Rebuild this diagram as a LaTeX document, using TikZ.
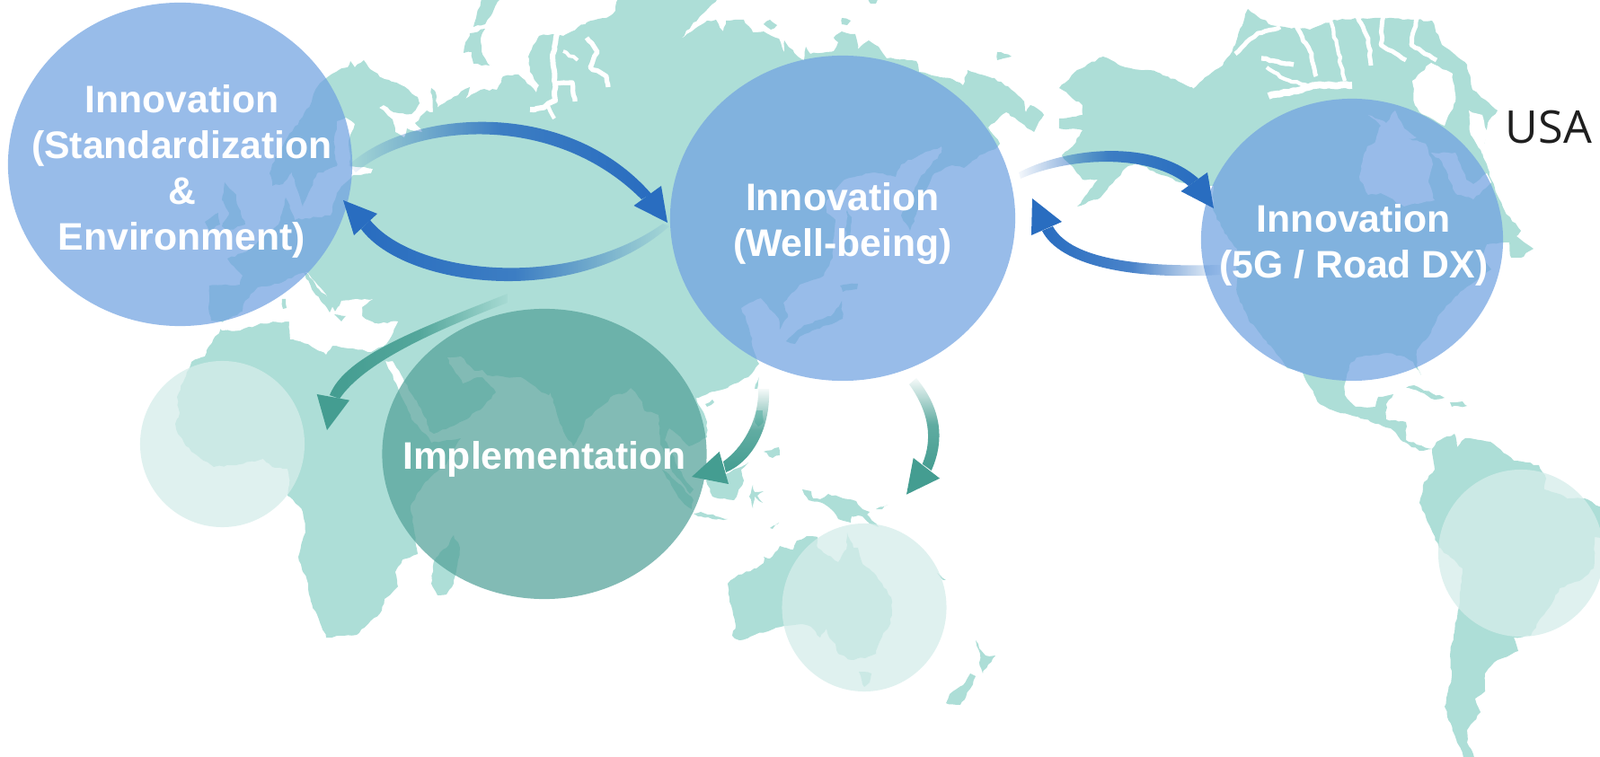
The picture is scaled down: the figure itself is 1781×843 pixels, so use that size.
\documentclass[tikz,border=0pt]{standalone}
\usepackage{fontspec}
\setmainfont{Liberation Sans}
\newfontfamily\usafont{Open Sans}
\usetikzlibrary{shapes.geometric,fadings,decorations.pathmorphing}
\definecolor{landgreen}{HTML}{ADDED7}
\definecolor{spotblue}{HTML}{72A3E1}
\definecolor{spotgreen}{HTML}{54A29A}
\definecolor{spotpale}{HTML}{D5EDEA}
\definecolor{flowblue}{HTML}{296DC0}
\definecolor{flowgreen}{HTML}{449D91}
\tikzfading[name=tailfade, left color=transparent!95, right color=transparent!0, middle color=transparent!15]
\tikzset{
  rough/.style={decorate, decoration={random steps, segment length=1.3pt, amplitude=.3pt}},
  land/.style={fill=landgreen, rough},
  sea/.style={fill=white, rough},
  channel/.style={draw=white, line join=round, rough},
  spot/.style={ellipse, inner sep=0pt, fill opacity=.73},
  bluespot/.style={spot, fill=spotblue},
  greenspot/.style={spot, fill=spotgreen},
  palespot/.style={spot, fill=spotpale, fill opacity=.76},
  spottext/.style={inner sep=0pt, text=white, align=center, yshift=-1.7pt,
    font=\fontsize{12.15}{14.5}\selectfont\bfseries},
}
\begin{document}
\begin{tikzpicture}[x=0.01cm,y=-0.01cm]
  \clip (0,0) rectangle (1781,843);
  % eurasia and africa
  \fill [land] plot coordinates {(233,318) (267,317) (270,307) (253,288) (275,280) (310,250) (318,220) (328,245) (340,243) (368,240) (375,215) (383,205) (393,195) (413,193) (415,188) (390,185) (388,160) (391,148) (395,138) (385,131) (375,135) (372,160) (375,185) (360,192) (353,193) (337,230) (333,217) (325,192) (315,205) (303,207) (300,193) (303,183) (320,153) (337,130) (347,113) (353,97) (363,87) (370,82)
    (377,78) (387,75) (390,68) (395,75) (405,67) (412,77) (428,88) (447,95) (465,108) (467,115) (458,127) (438,125) (427,117) (422,120) (437,133) (440,147) (450,153) (453,143) (470,147) (462,137) (475,123) (482,125) (480,98) (485,103) (487,120) (498,112) (523,97) (518,110) (535,100) (553,100) (560,85) (577,83) (597,103) (600,95) (590,80) (588,63) (600,40) (615,38) (627,40) (653,25) (675,20) (685,12) (688,-5) (802,-5)
    (785,13) (770,28) (758,43) (770,35) (787,23) (797,22) (805,35) (808,23) (828,22) (838,36) (850,35) (867,43) (873,58) (873,45) (888,63) (895,67) (897,52) (902,60) (928,57) (933,47) (928,42) (937,35) (952,38) (955,55) (967,45) (978,52) (987,65) (1020,68) (1023,80) (1043,85) (1060,88) (1072,95) (1077,78) (1107,87) (1130,103) (1140,113) (1142,125) (1147,117) (1160,125) (1162,128) (1151,147) (1148,145) (1137,137) (1120,125) (1113,130) (1100,142) (1113,160) (1108,166)
    (1090,173) (1073,187) (1060,184) (1040,193) (1030,213) (1013,257) (1003,240) (1007,233) (1023,200) (1037,183) (1048,170) (1048,163) (1023,173) (1003,183) (997,197) (973,192) (940,200) (920,223) (920,237) (930,245) (927,287) (917,307) (890,317) (872,337) (877,353) (868,367) (867,355) (863,350) (847,332) (825,343) (833,363) (840,393) (845,405) (833,420) (810,432) (790,437) (775,443) (787,470) (787,487) (767,497) (753,483) (745,477) (740,490) (760,530) (772,545) (768,550) (748,525) (735,495) (733,462) (717,457) (713,445) (702,432) (697,437) (683,440) (673,450) (652,467) (648,480) (638,497) (627,480) (618,453) (613,437) (611,440) (603,437) (592,428) (580,420) (563,420) (543,418) (537,420) (552,437) (538,453) (517,468) (483,483) (478,480) (475,467) (462,445) (450,425) (437,402)
    (429,402) (443,432) (458,467) (477,487) (480,493) (513,488) (497,517) (473,537) (457,563) (463,607) (465,617) (448,623) (440,637) (443,653) (428,667) (423,683) (397,707) (363,710) (346,670) (343,650) (332,620) (340,593) (337,570) (332,563) (320,552) (322,540) (320,522) (303,520) (293,511) (263,518) (238,520) (213,503) (198,483) (195,472) (200,460) (197,442) (205,423) (213,403) (228,397) (230,390) (245,368) (247,358) (235,357) (232,343)} -- cycle;
  % inland seas
  \fill [sea] plot coordinates {(247,359) (270,347) (273,335) (287,320) (313,315) (333,305) (342,303) (347,310) (363,328) (367,338) (373,347) (380,335) (397,333) (415,333) (403,342) (403,352) (417,360) (443,358) (430,383) (413,392) (393,388) (370,385) (363,395) (343,383) (323,378) (322,358) (290,360) (267,368) (247,368) (240,363)} -- cycle;
  \fill [sea] plot coordinates {(498,398) (513,397) (528,413) (537,412) (545,422) (532,420) (515,427) (510,418) (500,405)} -- cycle;
  \fill [land] plot coordinates {(338,303) (343,305) (355,322) (372,338) (367,348) (357,335) (347,322)} -- cycle;
  \fill [land] plot coordinates {(314,333) (318,333) (319,343) (315,344)} -- cycle;
  \fill [land] plot coordinates {(372,350) (385,352) (380,358)} -- cycle;
  \draw [channel, line width=1.7pt] (620,38) -- (615,63) -- (618,93) -- (618,112) -- (603,120) -- (590,122);
  \draw [channel, line width=1.5pt] (618,93) -- (637,92) -- (640,113);
  \draw [channel, line width=1.2pt] (610,118) -- (617,132);
  \draw [channel, line width=1.5pt] (653,42) -- (665,58) -- (657,75) -- (675,85) -- (677,97);
  \draw [channel, line width=1.1pt] (627,57) -- (643,67);
  % islands of europe and asia
  \fill [land] plot coordinates {(250,203) (263,217) (265,230) (273,250) (253,257) (247,252) (255,237) (247,223)} -- cycle;
  \fill [land] plot coordinates {(228,247) (243,237) (245,250) (233,257)} -- cycle;
  \fill [land] plot coordinates {(538,-5) (558,-5) (550,10) (540,27) (527,30) (530,20)} -- cycle;
  \fill [land] plot coordinates {(523,37) (540,32) (535,43) (536,57) (545,73) (527,71) (525,58) (516,59) (517,52)} -- cycle;
  \fill [land] plot coordinates {(850,27) (857,22) (865,28) (858,33)} -- cycle;
  \fill [land] plot coordinates {(937,20) (947,23) (943,28) (937,27)} -- cycle;
  \fill [land] plot coordinates {(965,-3) (980,-3) (975,4) (968,3)} -- cycle;
  \fill [land] plot coordinates {(1110,58) (1118,60) (1126,63) (1110,67)} -- cycle;
  \fill [land] plot coordinates {(943,234) (948,242) (946,285) (940,282)} -- cycle;
  \fill [land] plot coordinates {(935,318) (955,316) (954,322) (938,325)} -- cycle;
  \fill [land] plot coordinates {(937,335) (938,355) (890,375) (885,383) (875,380) (895,362) (925,352)} -- cycle;
  \fill [land] plot coordinates {(737,523) (758,540) (772,557) (770,567) (758,557) (747,540)} -- cycle;
  \fill [land] plot coordinates {(785,450) (793,445) (795,448) (787,453)} -- cycle;
  \fill [land] plot coordinates {(840,433) (845,420) (843,433)} -- cycle;
  \fill [land] plot coordinates {(842,457) (849,457) (850,470) (844,475) (840,470)} -- cycle;
  \fill [land] plot coordinates {(850,503) (867,498) (868,507) (860,510)} -- cycle;
  \fill [land] plot coordinates {(786,535) (793,553) (817,557) (828,535) (825,523) (833,515) (810,527)} -- cycle;
  \fill [land] plot coordinates {(838,540) (840,548) (850,547) (843,552) (849,560) (840,553) (838,566) (834,553)} -- cycle;
  \fill [land] plot coordinates {(772,572) (780,570) (797,575) (810,578) (793,578) (777,575)} -- cycle;
  \fill [land] plot coordinates {(857,588) (867,582) (860,589)} -- cycle;
  \fill [land] plot coordinates {(893,545) (903,547) (905,555) (913,556) (922,550) (953,558) (960,567) (968,570) (965,573) (978,587) (968,583) (960,575) (948,575) (947,582) (933,578) (925,567) (915,560) (900,557)} -- cycle;
  \fill [land] plot coordinates {(975,567) (988,562) (982,567)} -- cycle;
  \fill [land] plot coordinates {(1043,638) (1053,646) (1050,646)} -- cycle;
  % madagascar
  \fill [land] plot coordinates {(505,596) (512,610) (505,650) (497,662) (487,663) (480,650) (483,625) (490,615) (497,610)} -- cycle;
  % australia
  \fill [land] plot coordinates {(898,597) (910,598) (910,610) (933,626) (942,612) (943,593) (950,610) (955,610) (960,628) (973,638) (982,650) (992,665) (993,680) (990,697) (983,705) (977,720) (975,728) (963,733) (955,733) (948,735) (933,728) (930,717) (923,710) (920,700) (913,710) (903,698) (893,695) (873,697) (855,703) (840,707) (823,713) (815,708) (819,697) (812,670) (810,650) (822,640) (842,633) (850,627) (850,620) (857,622) (868,608) (875,610) (883,612) (887,602)} -- cycle;
  \fill [land] plot coordinates {(956,748) (970,750) (968,760) (962,765)} -- cycle;
  \fill [land] plot coordinates {(1086,713) (1090,722) (1097,730) (1108,730) (1100,740) (1094,750) (1090,738) (1091,728)} -- cycle;
  \fill [land] plot coordinates {(1080,750) (1086,753) (1080,767) (1069,785) (1053,783) (1057,773) (1072,763)} -- cycle;
  % north america
  \fill [land] plot coordinates {(1179,98) (1199,78) (1228,63) (1253,75) (1287,80) (1327,97) (1361,73) (1375,50) (1389,10) (1415,28) (1458,33) (1485,22) (1530,20) (1594,23) (1605,50) (1633,72) (1639,100) (1667,123) (1656,137) (1650,170) (1660,200) (1675,235) (1693,257) (1688,263) (1707,277) (1693,287) (1682,287) (1680,270) (1655,272) (1650,285) (1660,300) (1637,317) (1620,330) (1600,353) (1593,370) (1577,390) (1577,407) (1582,418) (1573,403) (1563,397) (1543,393) (1510,398) (1502,407) (1497,427) (1497,440) (1509,453) (1531,453) (1534,442) (1551,439) (1543,450) (1543,467) (1565,470) (1565,490) (1594,500) (1580,502) (1562,492) (1548,477) (1520,467) (1492,460) (1469,450) (1463,440) (1450,415) (1433,410) (1420,393) (1410,380) (1390,357) (1377,327) (1377,277) (1363,260) (1350,233) (1351,207) (1313,203) (1265,182) (1253,187) (1225,220) (1199,230) (1222,200) (1205,200) (1191,183) (1182,173) (1194,163) (1205,145) (1179,143) (1179,132) (1205,128) (1205,117)} -- cycle;
  \fill [sea] plot coordinates {(1572,90) (1593,70) (1617,82) (1620,113) (1608,140) (1583,127) (1575,117)} -- cycle;
  \fill [sea] plot coordinates {(1635,123) (1650,128) (1656,150) (1650,172) (1637,150)} -- cycle;
  \fill [sea] plot coordinates {(1515,185) (1522,163) (1550,150) (1587,160) (1595,183) (1590,203) (1597,223) (1563,230) (1537,215) (1523,217) (1513,197)} -- cycle;
  \fill [sea] plot coordinates {(1523,128) (1543,137) (1553,123) (1563,143) (1577,153) (1560,157) (1530,160) (1537,140)} -- cycle;
  \fill [sea] plot coordinates {(1593,170) (1620,170) (1632,200) (1640,205) (1655,193) (1660,203) (1640,222) (1620,215) (1605,180)} -- cycle;
  \draw [channel, line width=1.1pt] (1327,97) -- (1345,80) -- (1358,70);
  \draw [channel, line width=1.4pt] (1375,60) -- (1400,37) -- (1425,30);
  \draw [channel, line width=2.2pt] (1412,107) -- (1435,103) -- (1465,95) -- (1505,95);
  \draw [channel, line width=1.5pt] (1404,65) -- (1440,72);
  \draw [channel, line width=1.2pt] (1410,75) -- (1430,88) -- (1455,95);
  \draw [channel, line width=1.4pt] (1440,25) -- (1460,60) -- (1465,85);
  \draw [channel, line width=1.2pt] (1480,18) -- (1490,60) -- (1497,90);
  \draw [channel, line width=1.4pt] (1511,18) -- (1523,43) -- (1526,73);
  \draw [channel, line width=1.4pt] (1540,18) -- (1537,50) -- (1565,67);
  \draw [channel, line width=1.4pt] (1577,20) -- (1571,50) -- (1599,67);
  \fill [land] plot coordinates {(1565,432) (1574,429) (1594,438) (1608,443) (1597,445) (1585,438)} -- cycle;
  \fill [land] plot coordinates {(1614,448) (1628,447) (1633,452) (1616,453)} -- cycle;
  % south america
  \fill [land] plot coordinates {(1594,500) (1599,492) (1619,483) (1622,498) (1631,488) (1659,492) (1685,513) (1713,518) (1721,533) (1719,545) (1747,555) (1764,555) (1790,570) (1790,600) (1775,598) (1774,633) (1758,647) (1736,655) (1727,673) (1716,687) (1704,708) (1685,710) (1690,725) (1667,735) (1653,750) (1653,770) (1642,778) (1648,793) (1633,813) (1633,827) (1645,850) (1632,850) (1622,827) (1608,787) (1616,753) (1614,730) (1625,670) (1628,633) (1602,610) (1580,560) (1585,537) (1597,523)} -- cycle;
  % spots
  \node [palespot, minimum width=1.83cm, minimum height=1.85cm] (africa) at (247.5,494.5) {};
  \node [palespot, minimum width=1.83cm, minimum height=1.87cm] (oceania) at (962,676.5) {};
  \node [palespot, minimum width=1.84cm, minimum height=1.86cm] (samerica) at (1693,616) {};
  \node [bluespot, minimum width=3.83cm, minimum height=3.60cm] (standard) at (200.5,183) {};
  \node [bluespot, minimum width=3.84cm, minimum height=3.62cm] (wellbeing) at (938,243) {};
  \node [bluespot, minimum width=3.36cm, minimum height=3.14cm] (roadDX) at (1505,267) {};
  \node [greenspot, minimum width=3.61cm, minimum height=3.23cm] (implement) at (606,505.5) {};
  \node [spottext, xshift=.55pt, yshift=-.6pt] (standardText) at (standard) {Innovation\\(Standardization\\\&\\Environment)};
  \node [spottext] (wellbeingText) at (wellbeing) {Innovation\\(Well-being)};
  \node [spottext, xshift=.55pt] (roadDXText) at (roadDX) {Innovation\\(5G / Road DX)};
  \node [spottext] (implementText) at (implement) {Implementation};
  \node [inner sep=0pt, text=black!88, font=\usafont\fontsize{14.3}{15}\selectfont] (usa) at (1724,142) {USA};
  % blue flows
  \coordinate (a1) at (388,184);
  \coordinate (b1) at (743,248);
  \fill [flowblue, path fading=tailfade] (a1) .. controls (455,122) and (630,107) .. (725,216) -- (714,222) .. controls (615,123) and (460,138) .. (396,192) -- cycle;
  \fill [flowblue] (b1) -- (736,207) -- (705.5,229) -- cycle;
  \coordinate (a2) at (745,252);
  \coordinate (b2) at (382,223);
  \fill [flowblue, path fading=tailfade, fading angle=180] (a2) .. controls (640,345) and (450,320) .. (402,255) -- (412,245) .. controls (460,305) and (630,325) .. (738,249) -- cycle;
  \fill [flowblue] (b2) -- (420,238) -- (394,262) -- cycle;
  \coordinate (a3) at (1134,192);
  \coordinate (b3) at (1351,232);
  \fill [flowblue, path fading=tailfade] (a3) .. controls (1190,163) and (1285,155) .. (1334,199) -- (1323,207) .. controls (1280,170) and (1190,175) .. (1136,199) -- cycle;
  \fill [flowblue] (b3) -- (1344,192) -- (1314.5,213) -- cycle;
  \coordinate (a4) at (1358,306);
  \coordinate (b4) at (1149,221);
  \fill [flowblue, path fading=tailfade, fading angle=180] (a4) .. controls (1260,312) and (1180,296) .. (1160,257) -- (1172,252) .. controls (1190,285) and (1255,298) .. (1358,295) -- cycle;
  \fill [flowblue] (b4) -- (1182,247) -- (1148,262) -- cycle;
  % green flows
  \coordinate (a5) at (565,327);
  \coordinate (b5) at (364,479);
  \fill [flowgreen, path fading=tailfade, fading angle=180] (a5) .. controls (470,365) and (385,395) .. (367,440) -- (378,444) .. controls (405,405) and (475,372) .. (565,337) -- cycle;
  \fill [flowgreen] (b5) -- (352.7,439) -- (389,445.7) -- cycle;
  \coordinate (a6) at (856,433);
  \coordinate (b6) at (770,531);
  \fill [flowgreen, path fading=tailfade, fading angle=-90] (a6) .. controls (858,480) and (835,515) .. (808,526) -- (805,514) .. controls (825,500) and (845,470) .. (844,433) -- cycle;
  \fill [flowgreen] (b6) -- (800.7,503) -- (811,539) -- cycle;
  \coordinate (a7) at (1020,421);
  \coordinate (b7) at (1009,550.7);
  \fill [flowgreen, path fading=tailfade, fading angle=-90] (a7) .. controls (1048,455) and (1052,490) .. (1036.7,524) -- (1026.7,516.7) .. controls (1038,490) and (1035,460) .. (1012,428) -- cycle;
  \fill [flowgreen] (b7) -- (1016.7,510) -- (1046,532.7) -- cycle;
\end{tikzpicture}
\end{document}
